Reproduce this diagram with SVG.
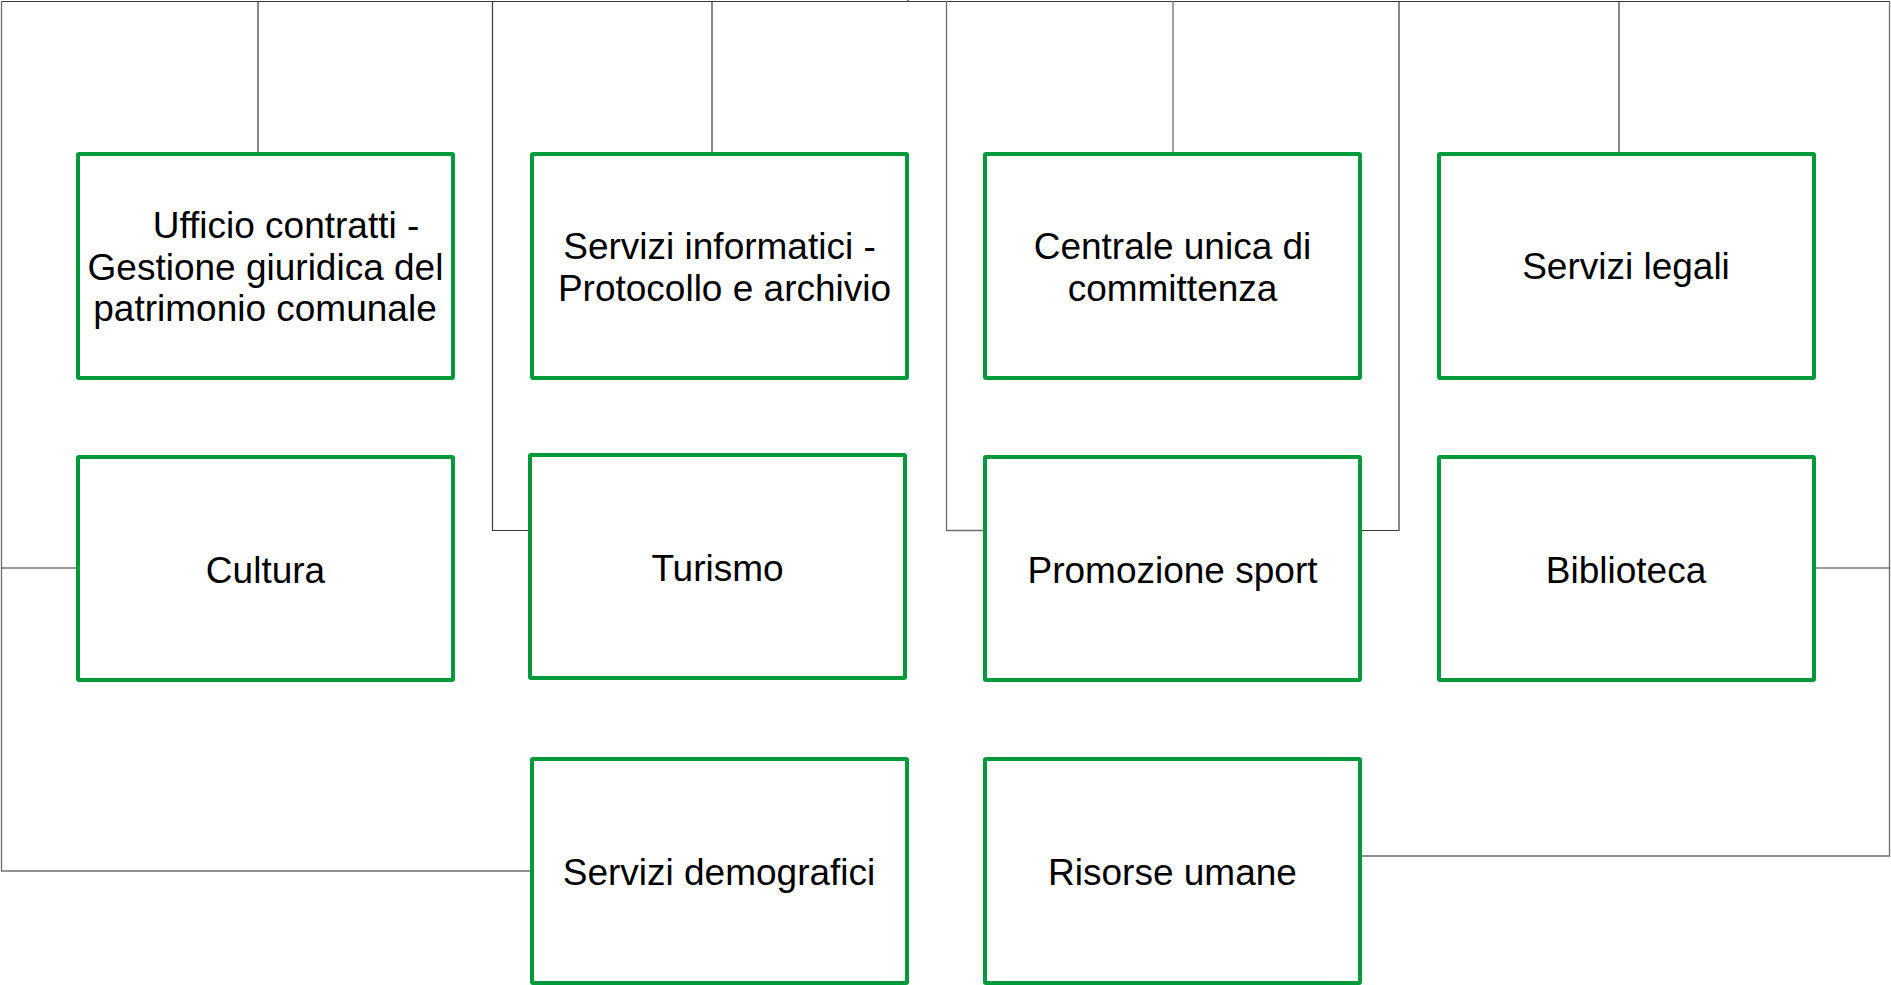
<svg xmlns="http://www.w3.org/2000/svg" width="1891" height="985" viewBox="0 0 1891 985">
  <style>
    .box { fill: #ffffff; stroke: #009a3a; stroke-width: 4; }
    .lbl { font-family: "Liberation Sans", Arial, sans-serif; font-size: 37px; fill: #000000; text-anchor: middle; }
    .c { fill: none; stroke: #3a3a3a; stroke-width: 1.2; }
    .g { fill: none; stroke: #6e6e6e; stroke-width: 1.3; }
  </style>
  <rect width="1891" height="985" fill="#ffffff"/>
  <g id="connectors">
    <path class="c" d="M1,1.5 H908"/>
    <path class="c" d="M908,1.5 H1890"/>
    <path class="c" d="M908,0 V2"/>
    <path class="g" d="M1.5,1 V871 H530"/>
    <path class="c" d="M1.5,568 H76"/>
    <path class="c" d="M258,1 V152"/>
    <path class="c" d="M492.5,1 V530.5 H528"/>
    <path class="c" d="M712,1 V152"/>
    <path class="g" d="M946.5,1 V530.5 H983"/>
    <path class="g" d="M1173,1 V152"/>
    <path class="c" d="M1399,1 V530.5 H1362"/>
    <path class="c" d="M1619,1 V152"/>
    <path class="g" d="M1889.5,1 V856 H1362"/>
    <path class="c" d="M1816,568 H1889.5"/>
  </g>
  <g id="n1">
    <rect class="box" x="78" y="154" width="375" height="224" rx="1"/>
    <text class="lbl" x="286" y="237.5">Ufficio contratti -</text>
    <text class="lbl" x="265.5" y="279.5">Gestione giuridica del</text>
    <text class="lbl" x="265" y="320.5">patrimonio comunale</text>
  </g>
  <g id="n2">
    <rect class="box" x="532" y="154" width="375" height="224" rx="1"/>
    <text class="lbl" x="719.5" y="258.5">Servizi informatici -</text>
    <text class="lbl" x="724.5" y="300.5">Protocollo e archivio</text>
  </g>
  <g id="n3">
    <rect class="box" x="985" y="154" width="375" height="224" rx="1"/>
    <text class="lbl" x="1172.5" y="258.5">Centrale unica di</text>
    <text class="lbl" x="1172.5" y="300.5">committenza</text>
  </g>
  <g id="n4">
    <rect class="box" x="1439" y="154" width="375" height="224" rx="1"/>
    <text class="lbl" x="1626" y="279">Servizi legali</text>
  </g>
  <g id="n5">
    <rect class="box" x="78" y="457" width="375" height="223" rx="1"/>
    <text class="lbl" x="265.5" y="583">Cultura</text>
  </g>
  <g id="n6">
    <rect class="box" x="530" y="455" width="375" height="223" rx="1"/>
    <text class="lbl" x="717.5" y="581">Turismo</text>
  </g>
  <g id="n7">
    <rect class="box" x="985" y="457" width="375" height="223" rx="1"/>
    <text class="lbl" x="1172.5" y="583">Promozione sport</text>
  </g>
  <g id="n8">
    <rect class="box" x="1439" y="457" width="375" height="223" rx="1"/>
    <text class="lbl" x="1626" y="583">Biblioteca</text>
  </g>
  <g id="n9">
    <rect class="box" x="532" y="759" width="375" height="224" rx="1"/>
    <text class="lbl" x="719" y="885">Servizi demografici</text>
  </g>
  <g id="n10">
    <rect class="box" x="985" y="759" width="375" height="224" rx="1"/>
    <text class="lbl" x="1172.5" y="885">Risorse umane</text>
  </g>
</svg>
